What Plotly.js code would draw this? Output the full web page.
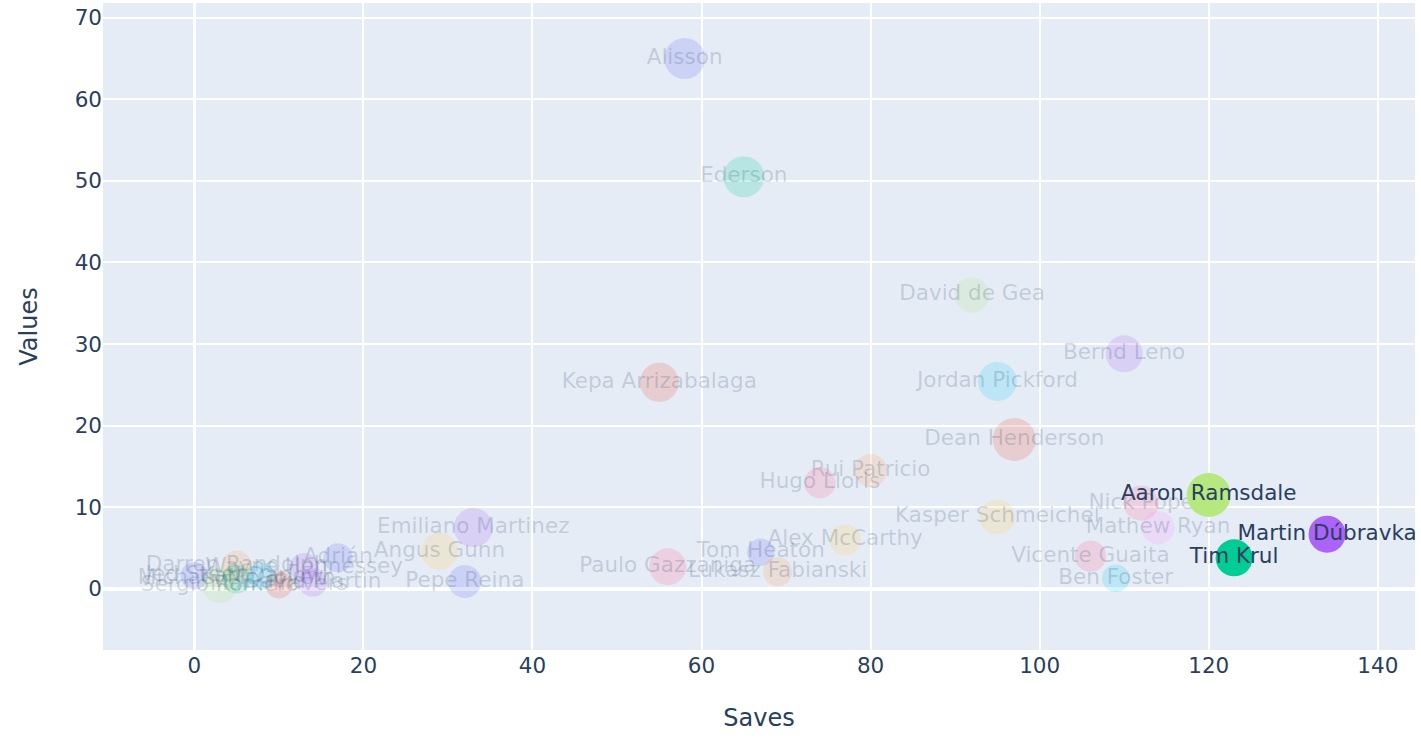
<!DOCTYPE html>
<html><head><meta charset="utf-8">
<script src="https://cdn.plot.ly/plotly-3.0.1.min.js"></script>
<style>html,body{margin:0;padding:0;background:#fff}#chart{width:1421px;height:743px}</style>
</head><body><div id="chart"></div>
<script>
const players = ["Alisson","Ederson","David de Gea","Bernd Leno","Jordan Pickford","Kepa Arrizabalaga","Dean Henderson","Rui Patricio","Hugo Lloris","Kasper Schmeichel","Nick Pope","Mathew Ryan","Vicente Guaita","Ben Foster","Alex McCarthy","Tom Heaton","Lukasz Fabianski","Paulo Gazzaniga","Emiliano Martinez","Angus Gunn","Pepe Reina","Adrián","Wayne Hennessey","Darren Randolph","Michael McGovern","Jed Steer","Sergio Romero","Mark Travers","Karl Darlow","David Martin","Aaron Ramsdale","Tim Krul","Martin Dúbravka"];
const saves   = [58,65,92,110,95,55,97,80,74,95,112,114,106,109,77,67,69,56,33,29,32,17,13,5,5,0,3,10,8,14,120,123,134];
const values  = [65,50.5,36,28.8,25.4,25.3,18.3,14.5,13,8.8,10.5,7.5,4,1.3,6,4.5,2.1,2.7,7.5,4.6,0.9,3.8,2.6,2.9,1.2,1.6,0.4,0.5,1.5,0.8,11.5,3.8,6.7];
const bubble  = [87,87,64,71,79,79,96,57,51,64,64,57,51,39,51,39,44,71,79,71,57,44,44,44,44,39,64,39,39,44,100,71,71];
const highlighted = ["Aaron Ramsdale","Tim Krul","Martin Dúbravka"];

// style
const palette = ['#636EFA','#EF553B','#00CC96','#AB63FA','#FFA15A','#19D3F3','#FF6692','#B6E880','#FF97FF','#FECB52'];
const colorIdx = [0,2,7,3,5,1,1,4,6,9,6,8,6,5,9,0,4,6,3,9,0,0,3,4,2,0,7,1,5,3,7,2,3];
const sizeRef = 2.1*100/(45*45);

const traces = players.map((p,i)=>{
  const hi = highlighted.includes(p);
  return {
    type:'scatter', mode:'markers+text', name:p,
    x:[saves[i]], y:[values[i]], text:[p],
    textposition:'middle center',
    textfont:{size:21.5, color: hi ? '#2a3f5f' : 'rgba(42,63,95,0.2)'},
    marker:{color:palette[colorIdx[i]], size:[bubble[i]], sizemode:'area', sizeref:sizeRef,
            opacity: hi ? 1 : 0.2, line:{width:0}},
    showlegend:false, cliponaxis:true
  };
});

const layout = {
  width:1421, height:743,
  margin:{l:103, r:6, t:3, b:93},
  paper_bgcolor:'#ffffff', plot_bgcolor:'#E5ECF6',
  font:{family:'"DejaVu Sans", Verdana, sans-serif', color:'#2a3f5f', size:21},
  xaxis:{range:[-10.8,144.4], dtick:20, tick0:0, gridcolor:'#ffffff', gridwidth:2,
         zeroline:true, zerolinecolor:'#ffffff', zerolinewidth:3.5, showline:false, ticks:'',
         tickfont:{size:21.5}, title:{text:'Saves', font:{size:24}, standoff:32}},
  yaxis:{range:[-7.5,71.8], dtick:10, tick0:0, gridcolor:'#ffffff', gridwidth:2,
         zeroline:true, zerolinecolor:'#ffffff', zerolinewidth:3.5, showline:false, ticks:'',
         tickfont:{size:21.5}, title:{text:'Values', font:{size:24}, standoff:30}},
  showlegend:false
};
Plotly.newPlot('chart', traces, layout, {displayModeBar:false, staticPlot:true});
</script></body></html>
